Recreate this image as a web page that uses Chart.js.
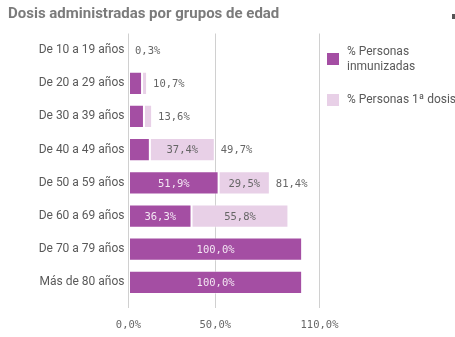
<!DOCTYPE html>
<html lang="es">
<head>
<meta charset="UTF-8">
<title>Dosis administradas por grupos de edad</title>
<script src="https://cdn.jsdelivr.net/npm/chart.js"></script>
<style>
    html, body { margin: 0; padding: 0; background: #fff; }
    #wrap { width: 455px; height: 337px; position: relative; }
</style>
</head>
<body>
<div id="wrap"><canvas id="dosisChart"></canvas></div>
<script>
    var titulo = 'Dosis administradas por grupos de edad';
    var grupos = ['De 10 a 19 años', 'De 20 a 29 años', 'De 30 a 39 años', 'De 40 a 49 años',
                  'De 50 a 59 años', 'De 60 a 69 años', 'De 70 a 79 años', 'Más de 80 años'];
    var inmunizadas = [0, 7.8, 8.9, 12.3, 51.9, 36.3, 100, 100];
    var primeraDosis = [0.3, 2.9, 4.7, 37.4, 29.5, 55.8, 0, 0];
    var ticksEje = [0, 50, 110];
    var leyenda = [['% Personas', 'inmunizadas'], ['% Personas 1ª dosis']];

    var colorInm = '#a44ea3';
    var colorPri = '#e8d0e7';
    var fuenteNum = '10.5px "DejaVu Sans Mono"';

    function fmt(v) {
        return v.toFixed(1).replace('.', ',') + '%';
    }

    // etiquetas de valor dentro de cada tramo y total al final de la barra
    var etiquetas = {
        id: 'etiquetas',
        afterDatasetsDraw: function(chart) {
            var ctx = chart.ctx;
            var area = chart.chartArea;
            ctx.save();
            ctx.font = fuenteNum;
            ctx.textBaseline = 'middle';
            var m0 = chart.getDatasetMeta(0).data;
            var m1 = chart.getDatasetMeta(1).data;
            grupos.forEach(function(g, i) {
                [[m0[i], inmunizadas[i], '#f3e6f3'], [m1[i], primeraDosis[i], '#666']].forEach(function(s) {
                    var bar = s[0], v = s[1];
                    if (!v) return;
                    var w = Math.abs(bar.x - bar.base);
                    var t = fmt(v);
                    if (ctx.measureText(t).width + 14 < w) {
                        ctx.fillStyle = s[2];
                        ctx.textAlign = 'center';
                        ctx.fillText(t, (bar.x + bar.base) / 2, bar.y + 1);
                    }
                });
                var total = Math.round((inmunizadas[i] + primeraDosis[i]) * 10) / 10;
                var fin = Math.max(m0[i].x, m1[i].x);
                var tt = fmt(total);
                if (primeraDosis[i] > 0 && fin + 6 + ctx.measureText(tt).width < area.right) {
                    ctx.fillStyle = '#666';
                    ctx.textAlign = 'left';
                    ctx.fillText(tt, fin + 6, m1[i].y + 1);
                }
            });
            ctx.restore();
        }
    };

    // título y leyenda a la derecha
    var marco = {
        id: 'marco',
        afterDraw: function(chart) {
            var ctx = chart.ctx;
            ctx.save();
            ctx.font = 'bold 15px Roboto';
            ctx.fillStyle = '#7b7b7b';
            ctx.textBaseline = 'middle';
            ctx.fillText(titulo, 8, 14);
            ctx.fillStyle = '#555';
            ctx.fillRect(452, 14, 3, 5);

            ctx.font = '12px Roboto';
            var colores = [colorInm, colorPri];
            var ys = [59, 100];
            leyenda.forEach(function(lineas, k) {
                ctx.fillStyle = colores[k];
                ctx.fillRect(327, ys[k] - 6, 12, 12);
                ctx.fillStyle = '#595959';
                var y0 = ys[k] - (lineas.length - 1) * 7.5;
                lineas.forEach(function(l, j) {
                    ctx.fillText(l, 347, y0 + j * 15);
                });
            });
            ctx.restore();
        }
    };

    var ctx = document.getElementById('dosisChart').getContext('2d');
    var chart = new Chart(ctx, {
        type: 'bar',
        data: {
            labels: grupos,
            datasets: [{
                label: '% Personas inmunizadas',
                data: inmunizadas,
                backgroundColor: colorInm,
                borderColor: 'rgba(255,255,255,0.45)',
                borderWidth: 1,
                borderSkipped: false
            }, {
                label: '% Personas 1ª dosis',
                data: primeraDosis,
                backgroundColor: colorPri,
                borderColor: 'rgba(255,255,255,0.45)',
                borderWidth: 1,
                borderSkipped: false
            }]
        },
        options: {
            indexAxis: 'y',
            responsive: true,
            maintainAspectRatio: false,
            animation: false,
            datasets: { bar: { categoryPercentage: 1, barPercentage: 0.7 } },
            layout: { padding: { top: 33.5, right: 135.5, bottom: 0, left: 0 } },
            scales: {
                x: {
                    stacked: true,
                    min: 0,
                    max: 110,
                    afterBuildTicks: function(scale) {
                        scale.ticks = ticksEje.map(function(v) { return { value: v }; });
                    },
                    afterFit: function(scale) { scale.height = 38; },
                    border: { display: false },
                    grid: { color: '#d0d0d0', tickLength: 9 },
                    ticks: {
                        font: { family: 'DejaVu Sans Mono', size: 10.5 },
                        color: '#666',
                        padding: 11,
                        maxRotation: 0,
                        callback: function(v) { return fmt(v); }
                    }
                },
                y: {
                    stacked: true,
                    afterFit: function(scale) { scale.width = 128.5; },
                    border: { display: false },
                    grid: { display: false, drawTicks: false },
                    ticks: {
                        font: { family: 'Roboto', size: 12 },
                        color: '#595959',
                        padding: 4
                    }
                }
            },
            plugins: {
                legend: { display: false },
                title: { display: false },
                tooltip: { enabled: false }
            }
        },
        plugins: [etiquetas, marco]
    });
</script>
</body>
</html>
